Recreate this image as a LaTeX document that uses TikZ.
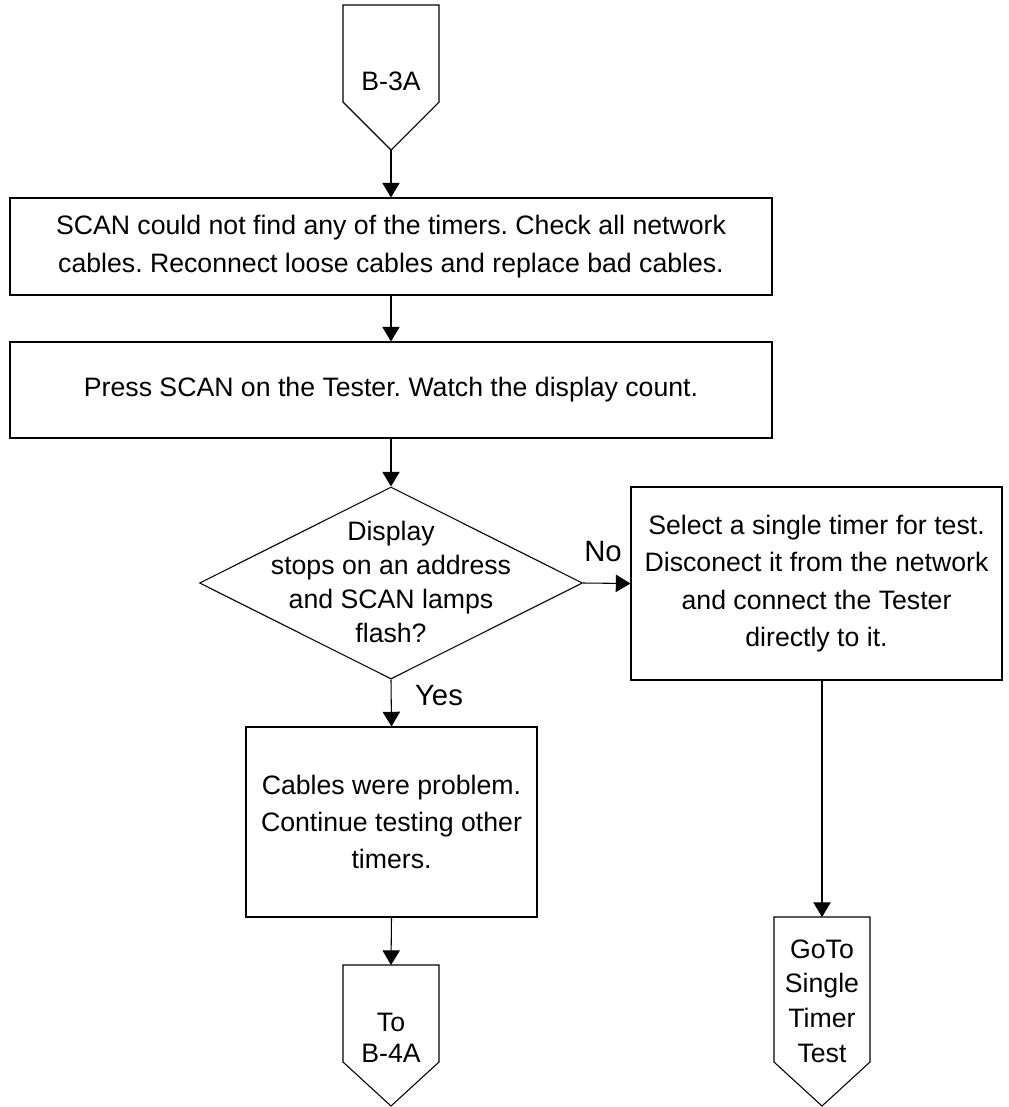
\documentclass[tikz,border=0pt]{standalone}
\usepackage{fontspec}
\setmainfont{Liberation Sans}
\usetikzlibrary{shapes.geometric,arrows.meta,positioning}

\tikzset{
  flowline/.style={-{Triangle[width=13pt,length=11pt]}, line width=0.8pt},
  stepbox/.style={draw, rectangle, line width=0.8pt, align=center, inner sep=0pt},
  decision/.style={draw, diamond, line width=0.8pt, inner sep=0pt, aspect=2},
  pagetext/.style={align=center, inner sep=0pt},
  branch/.style={font=\fontsize{22}{26}\selectfont, inner sep=0pt}
}

\begin{document}
\frenchspacing
\begin{tikzpicture}[x=0.75pt,y=-0.75pt,font=\fontsize{20}{28}\selectfont]
\useasboundingbox (0,0) rectangle (1008,1107);

% entry connector
\draw[line width=0.8pt] (343,5) -- (439,5) -- (439,102) -- (391,150) -- (343,102) -- cycle;
\node[pagetext] (b3a) at (391,81) {B-3A};
\coordinate (b3atip) at (391,150);

\node[stepbox, minimum width=571.5pt, minimum height=72.75pt] (check) at (391,246.5)
  {SCAN could not find any of the timers. Check all network\\cables. Reconnect loose cables and replace bad cables.};
\node[stepbox, minimum width=571.5pt, minimum height=72pt] (press) at (391,390)
  {Press SCAN on the Tester. Watch the display count.};

\node[decision, minimum width=287.25pt, minimum height=144pt] (stops) at (391,583) {};
\node[pagetext, font=\fontsize{20}{25.5}\selectfont] (stopstext) at (391,582)
  {Display\\stops on an address\\and SCAN lamps\\flash?};

\node[stepbox, minimum width=278.25pt, minimum height=144.75pt] (single) at (816.5,583.5)
  {Select a single timer for test.\\Disconect it from the network\\and connect the Tester\\directly to it.};
\node[stepbox, minimum width=218.25pt, minimum height=142.5pt] (cables) at (391.5,822)
  {Cables were problem.\\Continue testing other\\timers.};

% exit connectors
\draw[line width=0.8pt] (343,965) -- (439,965) -- (439,1062) -- (391,1106) -- (343,1062) -- cycle;
\node[pagetext, font=\fontsize{20}{23.5}\selectfont] (b4a) at (391,1038) {To\\B-4A};
\coordinate (b4atop) at (391,965);
\draw[line width=0.8pt] (774,917) -- (870,917) -- (870,1062) -- (822,1106) -- (774,1062) -- cycle;
\node[pagetext, font=\fontsize{20}{26}\selectfont] (goto) at (822,1001) {GoTo\\Single\\Timer\\Test};
\coordinate (gototop) at (822,917);

% flow
\draw[flowline] (b3atip) -- (check.north);
\draw[flowline] (check.south) -- (press.north);
\draw[flowline] (press.south) -- (stops.north);
\draw[flowline] (stops.east) -- (single.west);
\node[branch] (nolabel) at (603,552) {No};
\draw[flowline] (stops.south) -- (cables.north);
\node[branch] (yeslabel) at (439,696) {Yes};
\draw[flowline] (single.south -| gototop) -- (gototop);
\draw[flowline] (cables.south) -- (b4atop);
\end{tikzpicture}
\end{document}
